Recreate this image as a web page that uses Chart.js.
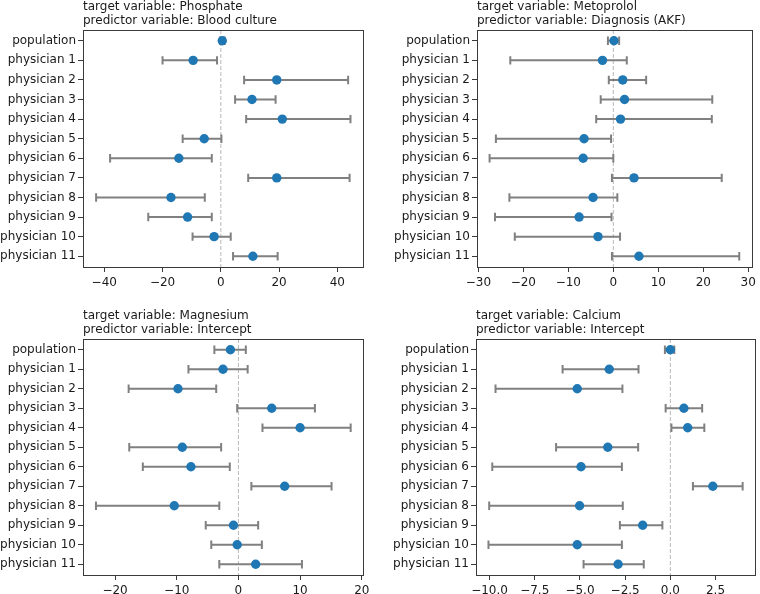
<!DOCTYPE html>
<html>
<head>
<meta charset="utf-8">
<script src="https://cdn.jsdelivr.net/npm/chart.js@4.4.1/dist/chart.umd.min.js"></script>
<style>
  body { margin: 0; background: #fff; }
  .panel { position: absolute; width: 380px; height: 297px; }
</style>
</head>
<body>
<div class="panel" style="left:0;top:0"><canvas id="phosphate" width="380" height="297"></canvas></div>
<div class="panel" style="left:380px;top:0"><canvas id="metoprolol" width="380" height="297"></canvas></div>
<div class="panel" style="left:0;top:297px"><canvas id="magnesium" width="380" height="297"></canvas></div>
<div class="panel" style="left:380px;top:297px"><canvas id="calcium" width="380" height="297"></canvas></div>
<script>
'use strict';

// ─── data ───
const ROWS = ['population', 'physician 1', 'physician 2', 'physician 3', 'physician 4', 'physician 5',
  'physician 6', 'physician 7', 'physician 8', 'physician 9', 'physician 10', 'physician 11'];

const PHOSPHATE_EST = [0.5, -9.5, 19.2, 10.7, 21.1, -5.7, -14.4, 19.2, -17.1, -11.4, -2.3, 11.0];
const PHOSPHATE_LO  = [-0.3, -20.0, 8.0, 4.9, 8.7, -13.1, -38.0, 9.4, -42.8, -24.9, -9.7, 4.2];
const PHOSPHATE_HI  = [1.3, -1.3, 43.7, 18.8, 44.5, 0.2, -3.1, 44.2, -5.5, -3.1, 3.4, 19.5];
const PHOSPHATE_TICKS = [-40, -20, 0, 20, 40];

const METOPROLOL_EST = [0.15, -2.4, 2.1, 2.5, 1.6, -6.5, -6.7, 4.6, -4.5, -7.6, -3.4, 5.7];
const METOPROLOL_LO  = [-1.2, -22.9, -1.0, -2.8, -3.8, -26.1, -27.5, -0.3, -23.1, -26.3, -21.9, -0.3];
const METOPROLOL_HI  = [1.3, 3.0, 7.3, 22.0, 21.9, -0.5, 0.0, 24.1, 0.9, -0.4, 1.5, 28.0];
const METOPROLOL_TICKS = [-30, -20, -10, 0, 10, 20, 30];

const MAGNESIUM_EST = [-1.3, -2.5, -9.8, 5.4, 10.0, -9.1, -7.7, 7.5, -10.4, -0.8, -0.2, 2.8];
const MAGNESIUM_LO  = [-3.9, -8.1, -17.8, -0.2, 3.9, -17.7, -15.5, 2.1, -23.1, -5.3, -4.4, -3.1];
const MAGNESIUM_HI  = [1.2, 1.5, -3.6, 12.4, 18.2, -2.8, -1.4, 15.1, -3.1, 3.2, 3.8, 10.3];
const MAGNESIUM_TICKS = [-20, -10, 0, 10, 20];

const CALCIUM_EST = [0.0, -3.38, -5.15, 0.75, 0.96, -3.46, -4.94, 2.35, -5.02, -1.53, -5.15, -2.89];
const CALCIUM_LO  = [-0.3, -5.96, -9.67, -0.26, 0.06, -6.32, -9.85, 1.25, -10.02, -2.79, -10.06, -4.8];
const CALCIUM_HI  = [0.22, -1.76, -2.65, 1.76, 1.88, -1.78, -2.68, 4.0, -2.63, -0.44, -2.68, -1.47];
const CALCIUM_TICKS = [-10, -7.5, -5, -2.5, 0, 2.5];

const TEXT = '#1a1a1a';
const FONT = { family: "'DejaVu Sans', sans-serif", size: 12 };

// error bars + zero line + spines, all through the chart scales
const forestPlugin = {
  id: 'forest',
  beforeDatasetsDraw(chart) {
    const { ctx, chartArea: a, scales: { x, y } } = chart;
    const f = chart.options.plugins.forest;
    ctx.save();
    // dashed reference line at zero
    const x0 = x.getPixelForValue(0);
    ctx.strokeStyle = '#b8b8b8';
    ctx.lineWidth = 1;
    ctx.setLineDash([4, 2]);
    ctx.beginPath();
    ctx.moveTo(x0, a.top);
    ctx.lineTo(x0, a.bottom);
    ctx.stroke();
    ctx.setLineDash([]);
    // error bars
    ctx.strokeStyle = '#808080';
    ctx.lineWidth = 2;
    f.lo.forEach((lo, i) => {
      const py = y.getPixelForValue(i);
      const pl = x.getPixelForValue(lo);
      const ph = x.getPixelForValue(f.hi[i]);
      ctx.beginPath();
      ctx.moveTo(pl, py); ctx.lineTo(ph, py);
      ctx.moveTo(pl, py - 4.2); ctx.lineTo(pl, py + 4.2);
      ctx.moveTo(ph, py - 4.2); ctx.lineTo(ph, py + 4.2);
      ctx.stroke();
    });
    ctx.restore();
  },
  afterDraw(chart) {
    const { ctx, chartArea: a } = chart;
    ctx.save();
    ctx.strokeStyle = '#3a3a3a';
    ctx.lineWidth = 1;
    ctx.strokeRect(Math.round(a.left) + 0.5, Math.round(a.top) + 0.5,
      Math.round(a.right - a.left), Math.round(a.bottom - a.top));
    ctx.restore();
  },
};

function fmt(v, decimals) {
  const s = Math.abs(v).toFixed(decimals);
  return v < 0 ? '\u2212' + s : s;
}

function renderForest(canvasId, title, est, lo, hi, ticks, xmin, xmax, decimals, box) {
  const canvas = document.getElementById(canvasId);
  new Chart(canvas, {
    type: 'scatter',
    data: {
      datasets: [{
        data: est.map((v, i) => ({ x: v, y: i })),
        backgroundColor: '#1f77b4',
        borderWidth: 0,
        pointRadius: 4.7,
        pointHoverRadius: 4.7,
      }],
    },
    options: {
      responsive: false,
      animation: false,
      layout: { padding: { left: 0, right: 380 - box.right, top: box.pad, bottom: 0 } },
      plugins: {
        legend: { display: false },
        tooltip: { enabled: false },
        title: {
          display: true,
          text: title,
          align: 'start',
          fullSize: false,
          color: TEXT,
          font: { ...FONT, weight: 'normal', lineHeight: 14 / 12 },
          padding: { top: 0, bottom: box.top - box.pad - 28 },
        },
        forest: { lo, hi },
      },
      scales: {
        x: {
          type: 'linear',
          min: xmin,
          max: xmax,
          afterBuildTicks: (s) => { s.ticks = ticks.map(v => ({ value: v })); },
          afterFit: (s) => { s.height = 297 - box.bottom; },
          ticks: { color: TEXT, font: FONT, padding: 4, maxRotation: 0, callback: (v) => fmt(v, decimals) },
          grid: { drawOnChartArea: false, tickLength: 5, tickColor: '#3a3a3a', color: '#3a3a3a' },
          border: { display: false },
        },
        y: {
          type: 'linear',
          reverse: true,
          min: -0.55,
          max: ROWS.length - 0.45,
          afterBuildTicks: (s) => { s.ticks = ROWS.map((_, i) => ({ value: i })); },
          afterFit: (s) => { s.width = box.left; },
          ticks: { color: TEXT, font: FONT, padding: 2, callback: (v) => ROWS[v] },
          grid: { drawOnChartArea: false, tickLength: 5, tickColor: '#3a3a3a', color: '#3a3a3a' },
          border: { display: false },
        },
      },
    },
    plugins: [forestPlugin],
  });
}

renderForest('phosphate', ['target variable: Phosphate', 'predictor variable: Blood culture'],
  PHOSPHATE_EST, PHOSPHATE_LO, PHOSPHATE_HI, PHOSPHATE_TICKS, -47.3, 48.8, 0,
  { left: 83, right: 363, top: 30, bottom: 267, pad: 0 });

renderForest('metoprolol', ['target variable: Metoprolol', 'predictor variable: Diagnosis (AKF)'],
  METOPROLOL_EST, METOPROLOL_LO, METOPROLOL_HI, METOPROLOL_TICKS, -30.3, 30.9, 0,
  { left: 97, right: 376, top: 30, bottom: 267, pad: 0 });

renderForest('magnesium', ['target variable: Magnesium', 'predictor variable: Intercept'],
  MAGNESIUM_EST, MAGNESIUM_LO, MAGNESIUM_HI, MAGNESIUM_TICKS, -25.2, 20.2, 0,
  { left: 83, right: 363, top: 42, bottom: 278, pad: 12 });

renderForest('calcium', ['target variable: Calcium', 'predictor variable: Intercept'],
  CALCIUM_EST, CALCIUM_LO, CALCIUM_HI, CALCIUM_TICKS, -10.75, 4.7, 1,
  { left: 96, right: 376, top: 42, bottom: 278, pad: 12 });
</script>
</body>
</html>
